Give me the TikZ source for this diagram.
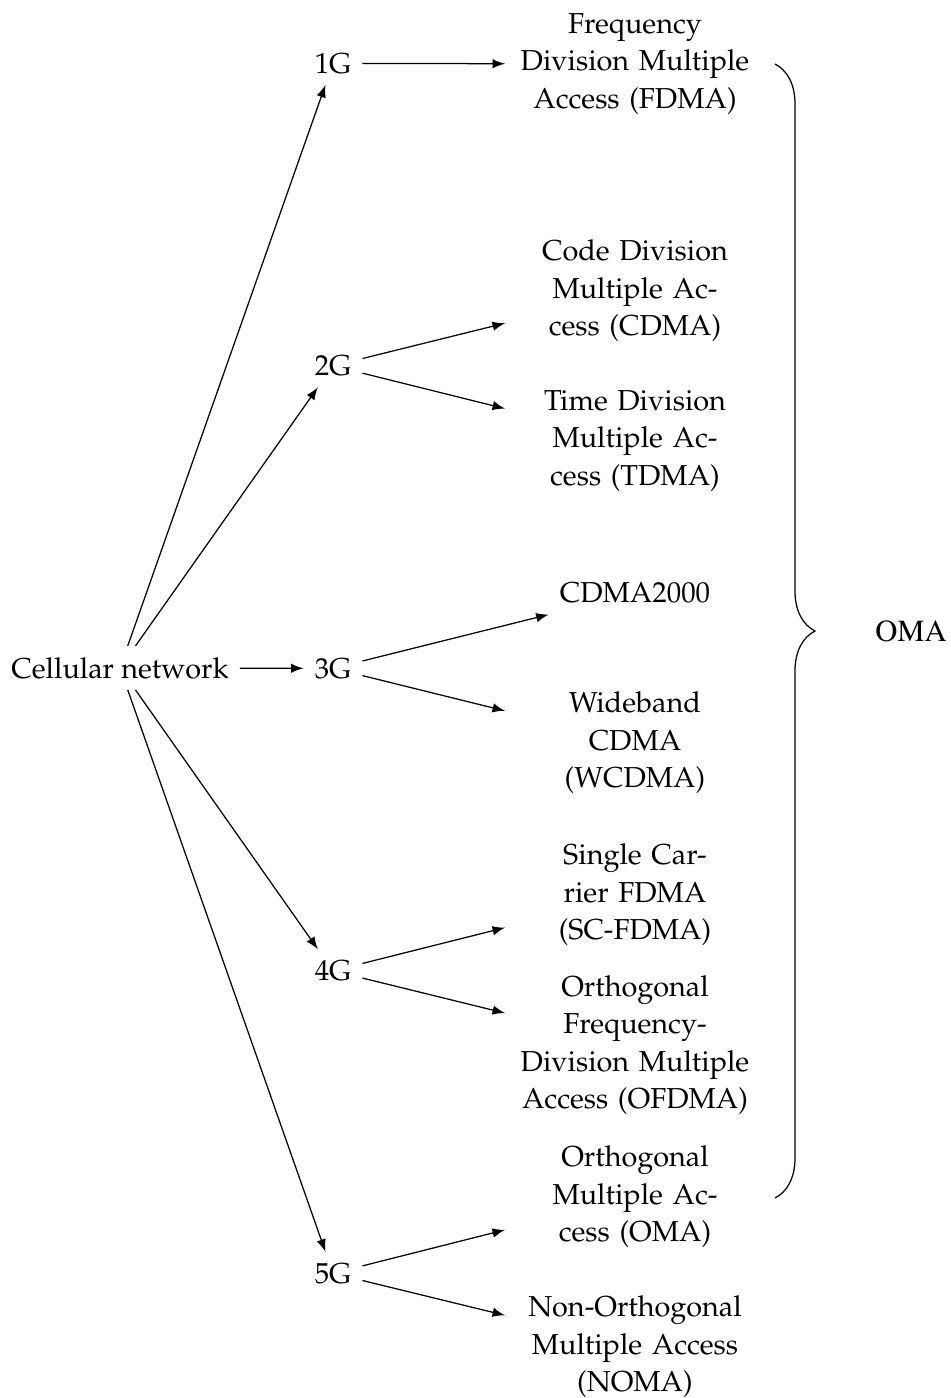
\documentclass[tikz,border=0pt]{standalone}
\usepackage[T1]{fontenc}
\renewcommand{\rmdefault}{ppl}
\usetikzlibrary{decorations.pathreplacing}
\begin{document}
\begin{tikzpicture}[x=0.32pt,y=-0.32pt,
  every node/.style={inner sep=3.4pt, font=\fontsize{9.23pt}{12pt}\selectfont},
  gen/.style={anchor=base},
  tech/.style={text width=76pt, align=center},
  link/.style={-latex, line width=0.4pt},
  bracebar/.style={decorate, decoration={brace, amplitude=12.8pt}, line width=0.4pt}
]
\useasboundingbox (0,0) rectangle (951,1398);

% root and generations
\node[gen] (cn) at (120,678) {Cellular network};
\node[gen] (g1) at (333,73) {1G};
\node[gen] (g2) at (333,375.5) {2G};
\node[gen] (g3) at (333,678) {3G};
\node[gen] (g4) at (333,980.5) {4G};
\node[gen] (g5) at (333,1283) {5G};

% access techniques
\node[tech] (t1)  at (635,64)   {Frequency\\Division Multiple\\Access (FDMA)};
\node[tech] (t2a) at (635,291)  {Code Division\\Multiple Ac-\\cess (CDMA)};
\node[tech] (t2b) at (635,441)  {Time Division\\Multiple Ac-\\cess (TDMA)};
\node       (t3a) at (635,593)  {CDMA2000};
\node[tech] (t3b) at (635,743)  {Wideband\\CDMA\\(WCDMA)};
\node[tech] (t4a) at (635,895)  {Single Car-\\rier FDMA\\(SC-FDMA)};
\node[tech] (t4b) at (635,1045) {Orthogonal\\Frequency-\\Division Multiple\\Access (OFDMA)};
\node[tech] (t5a) at (635,1197) {Orthogonal\\Multiple Ac-\\cess (OMA)};
\node[tech] (t5b) at (635,1347) {Non-Orthogonal\\Multiple Access\\(NOMA)};

% connectors
\foreach \g in {g1,g2,g3,g4,g5} \draw[link] (cn) -- (\g);
\draw[link] (g1) -- (t1);
\draw[link] (g2) -- (t2a);
\draw[link] (g2) -- (t2b);
\draw[link] (g3) -- (t3a);
\draw[link] (g3) -- (t3b);
\draw[link] (g4) -- (t4a);
\draw[link] (g4) -- (t4b);
\draw[link] (g5) -- (t5a);
\draw[link] (g5) -- (t5b);

% brace grouping the orthogonal schemes
\coordinate (bt) at (775,64);
\coordinate (bb) at (775,1198);
\draw[bracebar] (bt) -- (bb);
\node[font=\fontfamily{ptm}\fontsize{9.8pt}{12pt}\selectfont] (oma) at (911,631) {OMA};
\end{tikzpicture}
\end{document}
